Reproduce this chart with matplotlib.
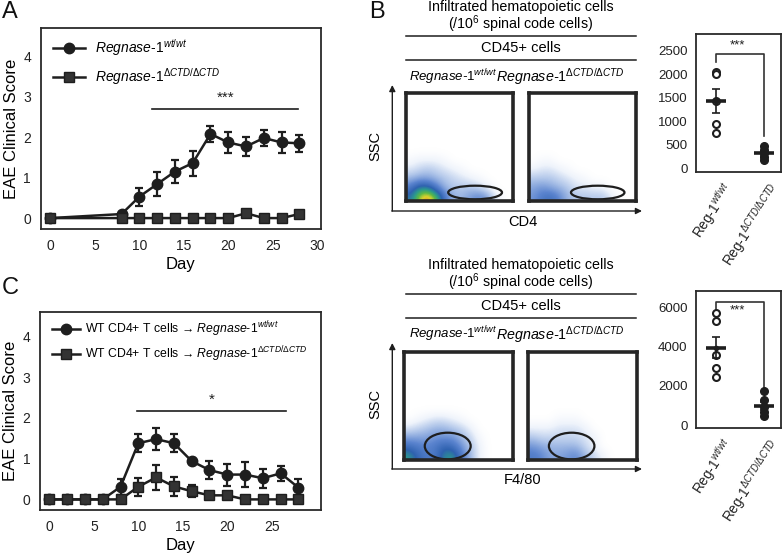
import numpy as np
import matplotlib
matplotlib.use("Agg")
import matplotlib.pyplot as plt
from matplotlib.colors import LinearSegmentedColormap
from matplotlib.patches import Ellipse
from matplotlib.transforms import ScaledTranslation, blended_transform_factory

plt.rcParams["font.family"] = ["Liberation Sans", "DejaVu Sans"]
plt.rcParams["mathtext.fontset"] = "custom"
plt.rcParams["mathtext.rm"] = "Liberation Sans"
plt.rcParams["mathtext.it"] = "Liberation Sans:italic"
plt.rcParams["mathtext.bf"] = "Liberation Sans:bold"

INK = "#1e1e1e"

# ---- panel A: EAE score, active immunisation ----
days_a = [0, 8, 10, 12, 14, 16, 18, 20, 22, 24, 26, 28]
wt_a = [0.0, 0.1, 0.53, 0.84, 1.15, 1.36, 2.08, 1.87, 1.77, 1.98, 1.87, 1.85]
wt_a_err = [0.0, 0.05, 0.22, 0.29, 0.29, 0.31, 0.2, 0.27, 0.23, 0.21, 0.25, 0.21]
ko_a = [0.0, 0.0, 0.0, 0.0, 0.0, 0.0, 0.0, 0.0, 0.12, 0.0, 0.0, 0.1]
ko_a_err = [0, 0, 0, 0, 0, 0, 0, 0, 0.05, 0, 0, 0.08]

# ---- panel C: EAE score, adoptive transfer ----
days_c = [0, 2, 4, 6, 8, 10, 12, 14, 16, 18, 20, 22, 24, 26, 28]
wt_c = [0, 0, 0, 0, 0.31, 1.38, 1.48, 1.38, 0.94, 0.72, 0.61, 0.61, 0.52, 0.64, 0.29]
wt_c_err = [0, 0, 0, 0, 0.2, 0.22, 0.27, 0.22, 0.08, 0.22, 0.27, 0.3, 0.23, 0.18, 0.22]
ko_c = [0, 0, 0, 0, 0, 0.31, 0.54, 0.32, 0.2, 0.1, 0.1, 0, 0, 0, 0]
ko_c_err = [0, 0, 0, 0, 0, 0.22, 0.3, 0.23, 0.15, 0.05, 0.05, 0, 0, 0, 0]

# ---- panel B: cell counts per 10^6 spinal cord cells ----
groups = ["Reg-1$^{\\mathit{wt/wt}}$", "Reg-1$^{\\mathit{ΔCTD/ΔCTD}}$"]
cd4_wt = [2050, 2000, 1430, 940, 760]
cd4_ko = [480, 400, 320, 240, 170]
cd4_mean = [1436, 322]
cd4_sem = [260, 55]
f480_wt = [5710, 5320, 3580, 2930, 2470]
f480_ko = [1740, 1280, 900, 650, 460]
f480_mean = [3954, 972]
f480_sem = [540, 230]

# flow density (rows = SSC bins from bottom, cols = marker bins), arbitrary units 0-10
flow_cd4_wt = [
    [6.5, 9, 10, 8.5, 5, 3, 3, 4, 4.5, 3.5, 1, 0, 0],
    [5, 7, 7, 5, 3, 2.5, 2.5, 2.5, 2, 1, 0, 0, 0],
    [3, 3.5, 3.5, 3, 2.5, 2, 1.5, 1, 0.5, 0, 0, 0, 0],
    [1.5, 2, 2.5, 2, 1.5, 1, 0.5, 0, 0, 0, 0, 0, 0],
    [0.5, 1, 1, 1, 0.5, 0, 0, 0, 0, 0, 0, 0, 0],
    [0, 0, 0, 0, 0, 0, 0, 0, 0, 0, 0, 0, 0],
]
flow_cd4_ko = [
    [4, 5, 5.5, 4.5, 3, 2.5, 2.5, 2.5, 2.5, 1.5, 0, 0, 0],
    [3.5, 4, 3.5, 3, 2.5, 1.5, 1.5, 1, 1, 0, 0, 0, 0],
    [2.5, 2.5, 2.5, 2, 1.5, 1, 0.5, 0, 0, 0, 0, 0, 0],
    [1, 1.5, 1.5, 1, 0.5, 0, 0, 0, 0, 0, 0, 0, 0],
    [0, 0.5, 0.5, 0, 0, 0, 0, 0, 0, 0, 0, 0, 0],
    [0, 0, 0, 0, 0, 0, 0, 0, 0, 0, 0, 0, 0],
]
flow_f480_wt = [
    [7.5, 6, 5, 5, 7, 7.5, 5, 3, 1, 0, 0, 0, 0],
    [5.5, 5, 4.5, 5, 6, 5.5, 4, 2.5, 1, 0, 0, 0, 0],
    [3.5, 3.5, 3.5, 4, 4, 4, 3, 2, 0.5, 0, 0, 0, 0],
    [1.5, 2, 2.5, 3, 3, 2.5, 2, 1, 0, 0, 0, 0, 0],
    [0, 0.5, 1, 1.5, 1.5, 1, 0.5, 0, 0, 0, 0, 0, 0],
    [0, 0, 0, 0, 0, 0, 0, 0, 0, 0, 0, 0, 0],
]
flow_f480_ko = [
    [5, 4.5, 3.5, 3.5, 4, 4.5, 3, 2, 1, 0, 0, 0, 0],
    [4, 3.5, 3, 3, 3, 3, 2, 1, 0, 0, 0, 0, 0],
    [2.5, 2, 2, 2, 2, 2, 1.5, 1, 0, 0, 0, 0, 0],
    [1, 1, 1, 1.5, 1.5, 1.5, 1, 0, 0, 0, 0, 0, 0],
    [0, 0, 0, 0.5, 0.5, 0.5, 0, 0, 0, 0, 0, 0, 0],
    [0, 0, 0, 0, 0, 0, 0, 0, 0, 0, 0, 0, 0],
]
# gates: (x centre, y centre, width, height) in box fractions
gate_cd4 = (0.645, 0.079, 0.50, 0.126)
gate_f480 = (0.40, 0.129, 0.42, 0.246)

W, H = 782, 553
fig = plt.figure(figsize=(W / 100, H / 100), dpi=100)


def px_axes(x0, y0, x1, y1, **kw):
    return fig.add_axes([x0 / W, 1 - y1 / H, (x1 - x0) / W, (y1 - y0) / H], **kw)


ov = px_axes(0, 0, W, H, zorder=-1)
ov.set_xlim(0, W)
ov.set_ylim(H, 0)
ov.axis("off")

wt_lab = "$\\mathit{Regnase}$-$\\mathit{1^{wt/wt}}$"
ko_lab = "$\\mathit{Regnase}$-$\\mathit{1^{ΔCTD/ΔCTD}}$"


def score_panel(rect, days, wt, wt_err, ko, ko_err, lims, xticks, labels, leg_fs,
                leg_pos, textpad, labspace, sig, star):
    ax = px_axes(*rect)
    for y, err in [(wt, wt_err), (ko, ko_err)]:
        ax.errorbar(days, y, yerr=err, fmt="none", ecolor=INK, capsize=2.8,
                    elinewidth=1.6, capthick=1.6, zorder=2)
    ax.plot(days, wt, color=INK, lw=1.8, marker="o", ms=7.5, mfc=INK, mec=INK,
            label=labels[0], zorder=3)
    ax.plot(days, ko, color=INK, lw=1.8, marker="s", ms=6.5, mfc="#333333",
            mec=INK, label=labels[1], zorder=3)
    ax.plot(sig[:2], [sig[2], sig[2]], color=INK, lw=1.2)
    ax.text(np.mean(sig[:2]), sig[2] + 0.1, star, ha="center", va="bottom",
            fontsize=11, color=INK)
    ax.set_xlim(lims[0])
    ax.set_ylim(lims[1])
    ax.set_xticks(xticks)
    ax.set_yticks([0, 1, 2, 3, 4])
    ax.tick_params(length=0, pad=7, labelsize=10, colors="#222222")
    for s in ax.spines.values():
        s.set_linewidth(1.3)
        s.set_color("#2a2a2a")
    ax.set_xlabel("Day", fontsize=12, labelpad=3)
    ax.set_ylabel("EAE Clinical Score", fontsize=12, labelpad=3)
    ax.legend(loc="upper left", bbox_to_anchor=leg_pos, frameon=False,
              fontsize=leg_fs, handlelength=2.3, handletextpad=textpad,
              labelspacing=labspace, borderpad=0, borderaxespad=0)
    return ax


score_panel((40.7, 28, 320.7, 229), days_a, wt_a, wt_a_err, ko_a, ko_a_err,
            ((-1.1, 30.4), (-0.27, 4.7)), [0, 5, 10, 15, 20, 25, 30],
            [wt_lab, ko_lab], 10, (0.043, 0.955), 0.75, 0.6,
            (11.4, 27.9, 2.7), "***")
score_panel((40, 311.7, 320.7, 510), days_c, wt_c, wt_c_err, ko_c, ko_c_err,
            ((-1.05, 30.5), (-0.26, 4.61)), [0, 5, 10, 15, 20, 25],
            ["WT CD4+ T cells → " + wt_lab, "WT CD4+ T cells → " + ko_lab],
            8.8, (0.041, 0.96), 0.45, 0.45, (9.9, 26.6, 2.18), "*")

cmap = LinearSegmentedColormap.from_list("flow", [
    (0.0, "#ffffff"), (0.1, "#eef3fb"), (0.25, "#b2c7ea"), (0.45, "#5b84cf"),
    (0.62, "#2f62b0"), (0.74, "#2b9a8c"), (0.84, "#5cb847"), (0.92, "#dcd22c"),
    (1.0, "#e8742a")])


def flow_box(rect, grid, gate):
    ax = px_axes(*rect)
    ax.imshow(np.array(grid), extent=(0, 1.05, 0, 0.5), origin="lower", cmap=cmap,
              vmin=0, vmax=10, interpolation="bicubic", aspect="auto")
    ax.add_patch(Ellipse(gate[:2], gate[2], gate[3], fill=False, ec=INK, lw=1.6))
    ax.set_xlim(0, 1)
    ax.set_ylim(0, 1)
    ax.set_xticks([])
    ax.set_yticks([])
    for s in ax.spines.values():
        s.set_linewidth(2.6)
        s.set_color("#262626")


def count_panel(rect, wt, ko, mean, sem, yticks, ylim, bracket, star_y):
    ax = px_axes(*rect)
    ax.plot([0] * len(wt), wt, "o", ms=5, mfc="white", mec=INK, mew=1.5, zorder=3)
    ax.plot([1] * len(ko), ko, "o", ms=5.5, mfc=INK, mec=INK, zorder=3)
    ax.errorbar([0, 1], mean, yerr=sem, fmt="none", ecolor=INK, elinewidth=1.2,
                capsize=3, capthick=1.2, zorder=4)
    ax.plot([0, 1], mean, "_", ms=14, mew=2.6, color=INK, zorder=4)
    ax.plot([0, 1], mean, "o", ms=3, color=INK, zorder=4)
    ax.plot([0, 0, 1, 1], bracket, color="#333333", lw=1.2)
    ax.text(0.45, star_y, "***", ha="center", va="center", fontsize=9.5, color=INK)
    ax.set_xlim(-0.41, 1.35)
    ax.set_ylim(ylim)
    ax.set_yticks(yticks)
    ax.set_xticks([])
    lab_tr = blended_transform_factory(ax.transData, ax.transAxes) + \
        ScaledTranslation(0.05, -0.08, fig.dpi_scale_trans)
    for i, g in enumerate(groups):
        ax.text(i, 0, g, transform=lab_tr, rotation=57, ha="right", va="top",
                rotation_mode="anchor", fontsize=9.8, color="#222222")
    ax.tick_params(axis="y", length=0, pad=6, labelsize=9.5, colors="#222222")
    for s in ax.spines.values():
        s.set_linewidth(1.3)
        s.set_color("#2a2a2a")


flow_box((405.7, 93.3, 513.3, 201), flow_cd4_wt, gate_cd4)
flow_box((528.7, 93.3, 635.7, 201), flow_cd4_ko, gate_cd4)
flow_box((404, 351.7, 513.3, 460), flow_f480_wt, gate_f480)
flow_box((528.3, 351.7, 636.7, 460), flow_f480_ko, gate_f480)

count_panel((696, 34.3, 780.7, 171.7), cd4_wt, cd4_ko, cd4_mean, cd4_sem,
            [0, 500, 1000, 1500, 2000, 2500], (-72, 2850),
            [2270, 2440, 2440, 680], 2610)
count_panel((696, 290.7, 780.7, 427.7), f480_wt, f480_ko, f480_mean, f480_sem,
            [0, 2000, 4000, 6000], (-138, 6870),
            [5880, 6300, 6300, 1960], 5850)

# panel letters
for letter, x, y in [("A", 2, 12), ("B", 369, 12), ("C", 2, 288)]:
    ov.text(x, y, letter, fontsize=17, ha="left", va="center", color="#111111")

# headers for the two flow rows
for top, xlab in [(0, "CD4"), (258, "F4/80")]:
    ov.text(521, 7.5 + top, "Infiltrated hematopoietic cells", ha="center",
            va="center", fontsize=10.3)
    ov.text(521, 24 + top, "(/10$^6$ spinal code cells)", ha="center",
            va="center", fontsize=10.3)
    ov.plot([405.7, 635.7], [35.7 + top, 35.7 + top], color=INK, lw=1.1)
    ov.text(521, 48.3 + top, "CD45+ cells", ha="center", va="center", fontsize=10.5)
    ov.plot([405.7, 635.7], [60 + top, 60 + top], color=INK, lw=1.1)
    ov.text(453.5, 76.7 + top, wt_lab, ha="center", va="center", fontsize=9.5,
            style="italic")
    ov.text(496, 76.7 + top, ko_lab, ha="left", va="center", fontsize=10.3,
            style="italic")
    ov.annotate("", xy=(392.3, 85 + top), xytext=(392.3, 211 + top),
                arrowprops=dict(arrowstyle="-|>", lw=1.0, color=INK, mutation_scale=9,
                                shrinkA=0, shrinkB=0))
    ov.annotate("", xy=(642, 211 + top), xytext=(391.8, 211 + top),
                arrowprops=dict(arrowstyle="-|>", lw=1.0, color=INK, mutation_scale=9,
                                shrinkA=0, shrinkB=0))
    ov.text(375, 146 + top, "SSC", rotation=90, ha="center", va="center", fontsize=10.5)
    ov.text(523, 222 + top, xlab, ha="center", va="center", fontsize=10.5)

fig.savefig("out.png", dpi=100)
